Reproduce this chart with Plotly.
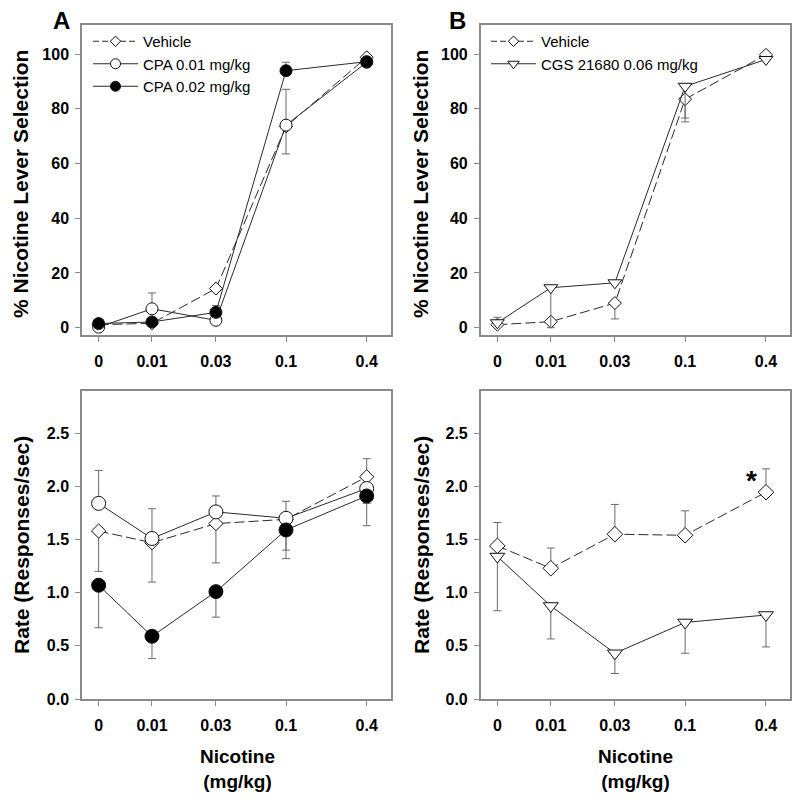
import numpy as np
import plotly.graph_objects as go

# ---------------- data ----------------
dose_labels = ["0", "0.01", "0.03", "0.1", "0.4"]
dose_pos = [0.004, 0.01, 0.03, 0.1, 0.4]   # zero dose drawn at 0.004 on the log axis

# Panel A - % nicotine lever selection
vehA_sel = [1.1, 1.6, 14.3, 73.5, 98.8]
cpa1_sel = [0.2, 6.9, 2.7, 74.0, 97.0]
cpa1_sel_up = [0, 5.8, 0, 13.1, 0]
cpa1_sel_dn = [0, 0, 0, 10.5, 0]
cpa2_sel = [1.5, 2.1, 5.6, 93.9, 97.2]
cpa2_sel_up = [0, 0, 2.5, 3.1, 0]

# Panel B - % nicotine lever selection
vehB_sel = [1.1, 2.2, 9.0, 83.5, 99.7]
vehB_sel_dn = [0, 0, 5.8, 8.3, 0]
cgs_sel = [1.8, 14.6, 16.4, 88.2, 98.0]
cgs_sel_up = [2.0, 0, 0, 0, 0]
cgs_sel_dn = [0, 14.6, 0, 11.6, 0]

# Panel A - response rate
vehA_rate = [1.58, 1.47, 1.65, 1.69, 2.09]
vehA_rate_up = [0, 0, 0, 0, 0.17]
vehA_rate_dn = [0.38, 0.37, 0.37, 0.29, 0]
cpa1_rate = [1.84, 1.51, 1.76, 1.70, 1.98]
cpa1_rate_up = [0.31, 0.28, 0.15, 0.16, 0]
cpa1_rate_dn = [0, 0, 0, 0, 0.14]
cpa2_rate = [1.07, 0.59, 1.01, 1.59, 1.91]
cpa2_rate_dn = [0.40, 0.21, 0.24, 0.27, 0.28]

# Panel B - response rate
vehB_rate = [1.44, 1.23, 1.55, 1.54, 1.945]
vehB_rate_up = [0.22, 0.19, 0.28, 0.23, 0.22]
cgs_rate = [1.34, 0.875, 0.43, 0.72, 0.79]
cgs_rate_dn = [0.51, 0.31, 0.19, 0.29, 0.30]

# ---------------- styling ----------------
FONT = "Liberation Sans, Arial, sans-serif"
LINE_C = "#2a2a2a"
ERR_C = "#6a6a6a"
AX_C = "#8a8a8a"

fig = go.Figure()

def err(up, dn):
    return dict(type="data", symmetric=False, array=up, arrayminus=dn,
                color=ERR_C, thickness=1, width=4)

def add(y, xa, ya, symbol, fill, size, dash, up=None, dn=None):
    zeros = [0] * len(y)
    fig.add_trace(go.Scatter(
        x=dose_pos, y=y, xaxis=xa, yaxis=ya, mode="lines+markers",
        line=dict(color=LINE_C, width=1, dash=dash),
        marker=dict(symbol=symbol, size=size, color=fill,
                    line=dict(color="#111111", width=1)),
        error_y=err(up if up else zeros, dn if dn else zeros),
        showlegend=False, hoverinfo="skip"))

DASH = "10px,4px"
# top-left
add(vehA_sel, "x", "y", "diamond", "white", 10, DASH)
add(cpa1_sel, "x", "y", "circle", "white", 12, "solid", cpa1_sel_up, cpa1_sel_dn)
add(cpa2_sel, "x", "y", "circle", "black", 12, "solid", cpa2_sel_up)
# top-right
add(vehB_sel, "x2", "y2", "diamond", "white", 10, DASH, None, vehB_sel_dn)
add(cgs_sel, "x2", "y2", "triangle-down", "white", 12, "solid", cgs_sel_up, cgs_sel_dn)
# bottom-left
add(vehA_rate, "x3", "y3", "diamond", "white", 11, DASH, vehA_rate_up, vehA_rate_dn)
add(cpa1_rate, "x3", "y3", "circle", "white", 14, "solid", cpa1_rate_up, cpa1_rate_dn)
add(cpa2_rate, "x3", "y3", "circle", "black", 14, "solid", None, cpa2_rate_dn)
# bottom-right
add(vehB_rate, "x4", "y4", "diamond", "white", 12, DASH, vehB_rate_up)
add(cgs_rate, "x4", "y4", "triangle-down", "white", 13, "solid", None, cgs_rate_dn)

# legend entries
def leg(name, symbol, fill, dash, legend):
    fig.add_trace(go.Scatter(
        x=[None], y=[None], mode="lines+markers", name=name, legend=legend,
        line=dict(color=LINE_C, width=1, dash=dash),
        marker=dict(symbol=symbol, size=10 if symbol != "diamond" else 8,
                    color=fill, line=dict(color="#111111", width=1)),
        showlegend=True))

leg("Vehicle", "diamond", "white", "6px,3px", "legend")
leg("CPA 0.01 mg/kg", "circle", "white", "solid", "legend")
leg("CPA 0.02 mg/kg", "circle", "black", "solid", "legend")
leg("Vehicle", "diamond", "white", "6px,3px", "legend2")
leg("CGS 21680 0.06 mg/kg", "triangle-down", "white", "solid", "legend2")

# page body has an 8px margin; work in page pixel coordinates
OFF = 8
W, H = 800 - OFF, 803 - OFF
def px(x):
    return (x - OFF) / W
def py(y):
    return 1 - (y - OFF) / H

xdomL = [px(82), px(390.7)]
xdomR = [px(480.7), px(790)]
ydomT = [py(335), py(25)]
ydomB = [py(699), py(390.7)]

xrange_log = [-2.522, -0.219]
tickfont = dict(family=FONT, size=16, color="black", weight="bold")

def xax(domain, anchor):
    return dict(type="log", domain=domain, anchor=anchor, range=xrange_log,
                tickvals=dose_pos, ticktext=dose_labels, tickfont=tickfont,
                showline=True, mirror=True, linecolor=AX_C, linewidth=1.5,
                ticks="outside", ticklen=5, tickcolor=AX_C, tickwidth=1,
                showgrid=False, zeroline=False, ticklabelstandoff=6,
                automargin=False)

def yax(domain, anchor, rng, dtick, fmt):
    return dict(domain=domain, anchor=anchor, range=rng, dtick=dtick, tick0=0,
                tickformat=fmt, tickfont=tickfont,
                showline=True, mirror=True, linecolor=AX_C, linewidth=1.5,
                ticks="outside", ticklen=5, tickcolor=AX_C, tickwidth=1,
                showgrid=False, zeroline=False, ticklabelstandoff=3,
                automargin=False)

legstyle = dict(font=dict(family=FONT, size=15, color="black"),
                bgcolor="rgba(0,0,0,0)", borderwidth=0, itemwidth=45,
                xanchor="left", yanchor="top", tracegroupgap=0)

fig.update_layout(
    width=W, height=H, margin=dict(l=0, r=0, t=0, b=0, autoexpand=False),
    paper_bgcolor="white", plot_bgcolor="white",
    xaxis=xax(xdomL, "y"), yaxis=yax(ydomT, "x", [-2.67, 110.6], 20, "d"),
    xaxis2=xax(xdomR, "y2"), yaxis2=yax(ydomT, "x2", [-2.67, 110.6], 20, "d"),
    xaxis3=xax(xdomL, "y3"), yaxis3=yax(ydomB, "x3", [0, 2.9], 0.5, ".1f"),
    xaxis4=xax(xdomR, "y4"), yaxis4=yax(ydomB, "x4", [0, 2.9], 0.5, ".1f"),
    legend=dict(x=px(88), y=py(25), **legstyle),
    legend2=dict(x=px(486), y=py(25), **legstyle),
)

ann = []
bold21 = dict(family=FONT, size=21, color="black", weight="bold")
boldx = dict(family=FONT, size=19, color="black", weight="bold")
C = dict(xref="paper", yref="paper", xanchor="center", yanchor="middle", showarrow=False)
# panel letters
ann.append(dict(text="A", x=px(61), y=py(21),
                font=dict(family=FONT, size=24, color="black", weight="bold"), **C))
ann.append(dict(text="B", x=px(457), y=py(21),
                font=dict(family=FONT, size=24, color="black", weight="bold"), **C))
# y titles
for xc in (21, 421):
    ann.append(dict(text="% Nicotine Lever Selection", x=px(xc), y=py(184),
                    textangle=-90, font=bold21, **C))
    ann.append(dict(text="Rate (Responses/sec)", x=px(xc), y=py(545),
                    textangle=-90, font=bold21, **C))
# x titles
for xc in (237, 635):
    ann.append(dict(text="Nicotine<br>(mg/kg)", x=px(xc), y=py(769), font=boldx, **C))
# significance marker
ann.append(dict(text="*", x=np.log10(dose_pos[4]), y=vehB_rate[4], xref="x4", yref="y4",
                xanchor="center", yanchor="middle",
                xshift=-14, yshift=12, showarrow=False,
                font=dict(family=FONT, size=28, color="black", weight="bold")))
fig.update_layout(annotations=ann)

fig.write_html("out.html")
